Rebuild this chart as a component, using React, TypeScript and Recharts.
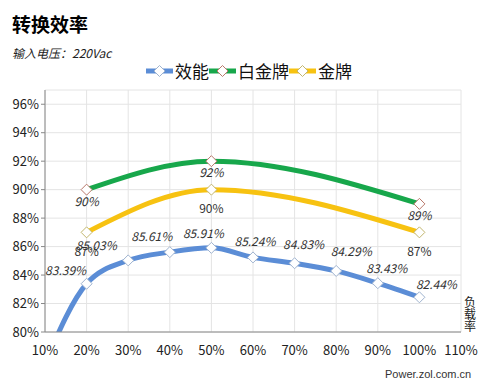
import React from "react";
import { LineChart, Line, XAxis, YAxis, CartesianGrid } from "recharts";

const FONT = '"Noto Sans CJK SC", "Noto Sans", sans-serif';

// load rate (%) -> efficiency (%)
const loadBlue = [10, 20, 30, 40, 50, 60, 70, 80, 90, 100];
const effBlue = [77.8, 83.39, 85.03, 85.61, 85.91, 85.24, 84.83, 84.29, 83.43, 82.44];
const loadStd = [20, 50, 100];
const platinum = [90, 92, 89];
const gold = [87, 90, 87];

const xTicks = [10, 20, 30, 40, 50, 60, 70, 80, 90, 100, 110];
const yTicks = [80, 82, 84, 86, 88, 90, 92, 94, 96];

const blueData = loadBlue.map((x, i) => ({ x, v: effBlue[i] }));
const platData = loadStd.map((x, i) => ({ x, v: platinum[i] }));
const goldData = loadStd.map((x, i) => ({ x, v: gold[i] }));

const BLUE = "#5b8dd6";
const GREEN = "#17a74b";
const YELLOW = "#f7c211";

// hand nudges of the blue labels, as in the source workbook
const blueNudge: Record<number, [number, number]> = {
  20: [-21, -12], 30: [-32, -14], 40: [-18, -14], 50: [-8, -13], 60: [2, -15],
  70: [9, -18], 80: [15, -18], 90: [9, -13], 100: [17, -12],
};

const diamond = (stroke: string) => (p: any) => {
  const { cx, cy, payload } = p;
  if (payload.x < 15 || cx == null) return <g key={p.index} />;
  const r = 5.5;
  return (
    <path key={p.index} d={`M${cx},${cy - r}L${cx + r},${cy}L${cx},${cy + r}L${cx - r},${cy}Z`}
      fill="#fff" stroke={stroke} strokeWidth={1} />
  );
};

const blueLabel = (p: any) => {
  const { x, y, value, index } = p;
  const load = loadBlue[index];
  const n = blueNudge[load];
  if (!n) return null;
  return (
    <text x={x + n[0]} y={y + n[1]} textAnchor="middle" dominantBaseline="middle"
      fontSize={12} fontStyle="italic" fill="#333" fontFamily={FONT}>
      {value.toFixed(2)}%
    </text>
  );
};

const belowLabel = (dy: number, italic: boolean) => (p: any) => (
  <text x={p.x} y={p.y + dy} textAnchor="middle" dominantBaseline="middle"
    fontSize={12} fontStyle={italic ? "italic" : "normal"} fill="#333" fontFamily={FONT}>
    {p.value}%
  </text>
);

const legendItems = [
  { name: "效能", color: BLUE, mark: "#9fb3cf" },
  { name: "白金牌", color: GREEN, mark: "#b9786a" },
  { name: "金牌", color: YELLOW, mark: "#c2b66e" },
];

const ChartLegend = () => (
  <div style={{ position: "absolute", left: 146, top: 61, display: "flex", alignItems: "center", fontFamily: FONT, fontSize: 17, color: "#111" }}>
    {legendItems.map((it) => (
      <div key={it.name} style={{ display: "flex", alignItems: "center" }}>
        <svg width={27} height={14}>
          <line x1={0} y1={7} x2={27} y2={7} stroke={it.color} strokeWidth={5} />
          <path d="M13.5,1.5L19,7L13.5,12.5L8,7Z" fill="#fff" stroke={it.mark} />
        </svg>
        <span style={{ marginLeft: 2, lineHeight: "20px" }}>{it.name}</span>
      </div>
    ))}
  </div>
);

export default function App() {
  return (
    <div style={{ position: "absolute", left: 0, top: 0, width: 500, height: 386, background: "#fff", fontFamily: FONT }}>
      <div style={{ position: "absolute", left: 12, top: 10, fontSize: 19, fontWeight: "bold", color: "#000" }}>转换效率</div>
      <div style={{ position: "absolute", left: 12, top: 44, fontSize: 12, fontStyle: "italic", color: "#222" }}>输入电压：220Vac</div>
      <ChartLegend />
      <LineChart width={500} height={386} margin={{ top: 90, right: 39, bottom: 24, left: 0 }}>
        <CartesianGrid stroke="#e4e4e4" />
        <XAxis dataKey="x" type="number" domain={[10, 110]} ticks={xTicks} allowDuplicatedCategory={false}
          tickFormatter={(v) => `${v}%`} stroke="#888" tickLine={false} height={30}
          tick={{ fill: "#222", fontSize: 13, fontFamily: FONT }} tickMargin={8} />
        <YAxis type="number" domain={[80, 97]} ticks={yTicks} allowDataOverflow width={45}
          tickFormatter={(v) => `${v}%`} stroke="#888" tickSize={4}
          tick={{ fill: "#222", fontSize: 13, fontFamily: FONT }} />
        <Line data={blueData} dataKey="v" name="效能" type="monotone" stroke={BLUE} strokeWidth={5}
          dot={diamond("#9fb3cf")} activeDot={false} isAnimationActive={false} label={blueLabel} />
        <Line data={platData} dataKey="v" name="白金牌" type="monotone" stroke={GREEN} strokeWidth={5}
          dot={diamond("#b9786a")} activeDot={false} isAnimationActive={false} label={belowLabel(13, true)} />
        <Line data={goldData} dataKey="v" name="金牌" type="monotone" stroke={YELLOW} strokeWidth={5}
          dot={diamond("#c2b66e")} activeDot={false} isAnimationActive={false} label={belowLabel(20, false)} />
      </LineChart>
      <div style={{ position: "absolute", left: 464, top: 296, width: 13, fontSize: 12, lineHeight: "12px", color: "#222", wordBreak: "break-all" }}>负载率</div>
      <div style={{ position: "absolute", left: 385, top: 368, fontSize: 11, color: "#333", fontFamily: "Liberation Sans, sans-serif" }}>Power.zol.com.cn</div>
    </div>
  );
}
